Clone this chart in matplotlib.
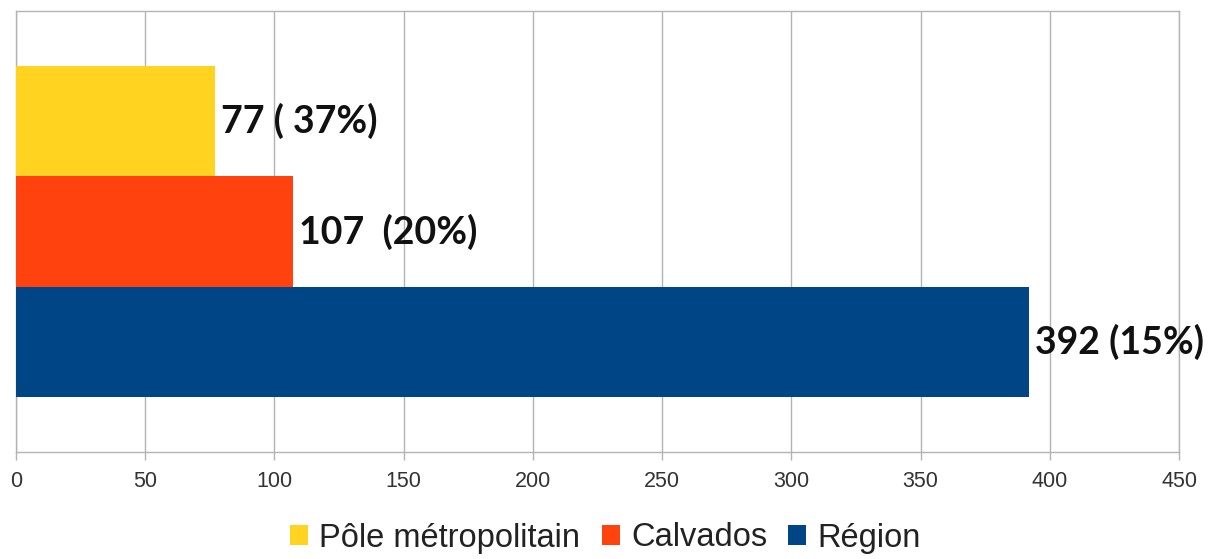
import matplotlib
matplotlib.use("Agg")
import matplotlib.pyplot as plt
import numpy as np

series = ["Pôle métropolitain", "Calvados", "Région"]
values = [77, 107, 392]
value_labels = ["77 ( 37%)", "107  (20%)", "392 (15%)"]
colors = ["#FFD320", "#FF420E", "#004586"]
xticks = [0, 50, 100, 150, 200, 250, 300, 350, 400, 450]

W, H = 1211, 559
fig = plt.figure(figsize=(W / 100, H / 100), dpi=100)
ax = fig.add_axes([16 / W, 1 - 452 / H, (1179 - 16) / W, (452 - 11) / H])

grid_c = "#b3b3b3"
bar_h = 0.25
ypos = [0.25, 0.0, -0.25]
for y, v, c, s, lab in zip(ypos, values, colors, series, value_labels):
    ax.barh(y, v, height=bar_h, color=c, label=s, zorder=3)
    ax.annotate(lab, xy=(v, y), xytext=(6, 0), textcoords="offset pixels",
                ha="left", va="center", fontsize=27, fontweight="bold",
                family="Lato", color="#111111", zorder=4)

ax.set_xlim(0, 450)
ax.set_ylim(-0.5, 0.5)
ax.set_xticks(xticks)
ax.set_xticklabels([str(t) for t in xticks], family="Liberation Sans",
                   fontsize=15.5, color="#333333")
ax.set_yticks([])
ax.tick_params(axis="x", direction="out", length=6, width=1, color=grid_c, pad=8)
ax.grid(axis="x", color=grid_c, linewidth=1, zorder=0)
for sp in ax.spines.values():
    sp.set_color(grid_c)
    sp.set_linewidth(1)

leg = fig.legend(loc="center", bbox_to_anchor=(0.5, 1 - 538 / H), ncol=3,
                 frameon=False, prop={"family": "Liberation Sans", "size": 23.5},
                 handlelength=0.55, handleheight=0.55, handletextpad=0.35,
                 columnspacing=0.65, labelcolor="#222222")

fig.savefig("out.png", dpi=100)
